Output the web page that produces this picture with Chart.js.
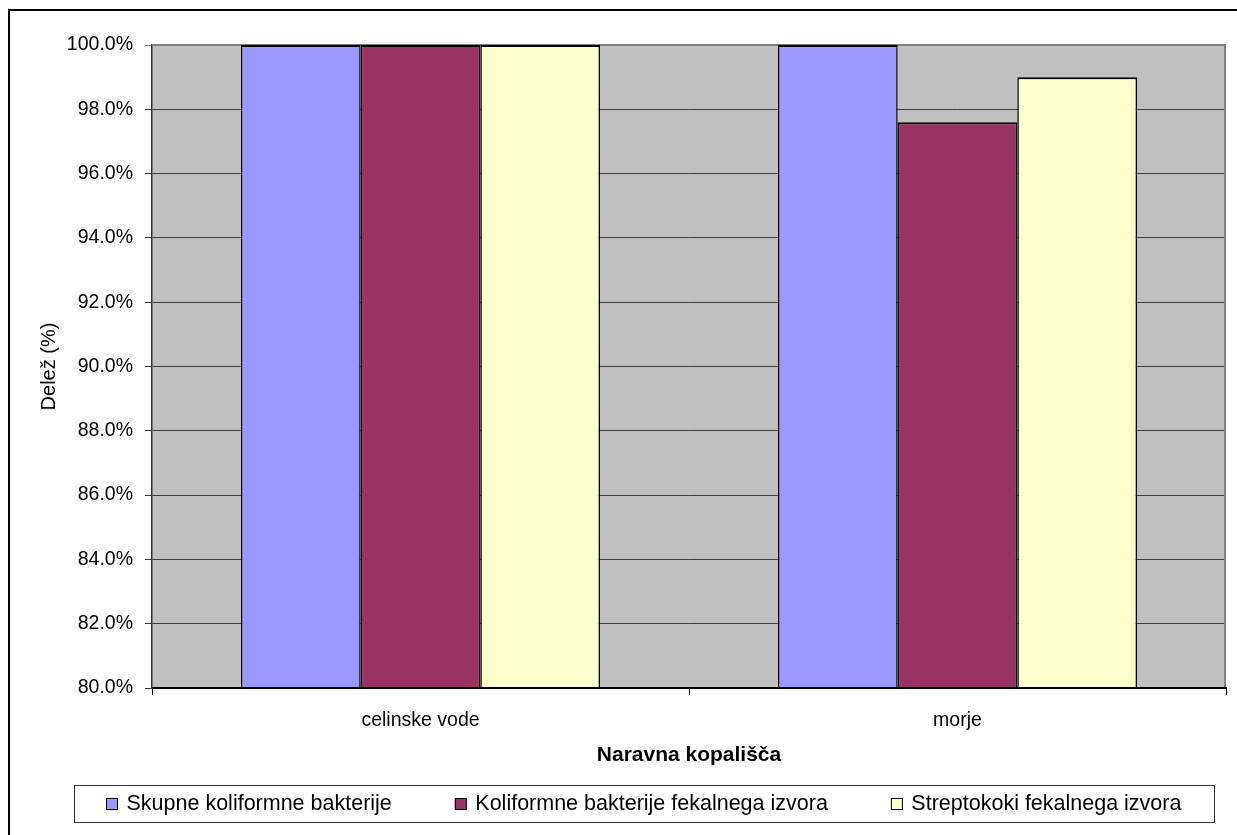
<!DOCTYPE html>
<html lang="sl">
<head>
<meta charset="utf-8">
<title>Naravna kopališča</title>
<script src="https://cdn.jsdelivr.net/npm/chart.js@4.4.0/dist/chart.umd.min.js"></script>
<style>
  html, body { margin: 0; padding: 0; background: #ffffff; }
  canvas { display: block; }
</style>
</head>
<body>
<canvas id="chart" width="1237" height="835"></canvas>
<script>
// Categories and series values (share of compliant samples, %)
const categories = ['celinske vode', 'morje'];
const seriesNames = [
  'Skupne koliformne bakterije',
  'Koliformne bakterije fekalnega izvora',
  'Streptokoki fekalnega izvora'
];
const skupneKoliformne = [100.0, 100.0];
const koliformneFekalne = [100.0, 97.6];
const streptokokiFekalni = [100.0, 99.0];
const seriesColors = ['#9999FF', '#993366', '#FFFFCC'];
const yMin = 80, yMax = 100, yStep = 2;

const FONT = '"Liberation Sans", Arial, Helvetica, sans-serif';

// Grey plot background, frame lines and the outer chart border
const framePlugin = {
  id: 'frame',
  beforeDraw(chart) {
    const { ctx, chartArea: a } = chart;
    ctx.save();
    ctx.fillStyle = '#ffffff';
    ctx.fillRect(0, 0, chart.width, chart.height);
    ctx.fillStyle = '#C0C0C0';
    ctx.fillRect(a.left, a.top, a.right - a.left, a.bottom - a.top);
    ctx.restore();
  },
  beforeDatasetsDraw(chart) {
    const { ctx, chartArea: a } = chart;
    ctx.save();
    ctx.strokeStyle = '#808080';
    ctx.lineWidth = 2;
    ctx.beginPath();
    ctx.moveTo(a.left, a.top);
    ctx.lineTo(a.right - 1, a.top);
    ctx.lineTo(a.right - 1, a.bottom);
    ctx.stroke();
    ctx.restore();
  },
  afterDatasetsDraw(chart) {
    // category axis line stays on top of the bar bases
    const { ctx, chartArea: a } = chart;
    ctx.save();
    ctx.fillStyle = '#000000';
    ctx.fillRect(a.left, Math.round(a.bottom) - 1, a.right - a.left, 2);
    ctx.restore();
  },
  afterDraw(chart) {
    const { ctx } = chart;
    ctx.save();
    ctx.fillStyle = '#000000';
    ctx.fillRect(8, 9, 2, chart.height);
    ctx.fillRect(8, 9, chart.width, 2);
    ctx.restore();
  }
};

// Boxed legend below the axis title
const boxLegendPlugin = {
  id: 'boxLegend',
  afterDraw(chart) {
    const { ctx } = chart;
    ctx.save();
    ctx.strokeStyle = '#333333';
    ctx.lineWidth = 1;
    ctx.strokeRect(74.5, 785.5, 1140, 37);
    ctx.font = '21.5px ' + FONT;
    ctx.textBaseline = 'middle';
    ctx.textAlign = 'left';
    let x = 106;
    chart.data.datasets.forEach((ds) => {
      ctx.fillStyle = ds.backgroundColor;
      ctx.fillRect(x, 798, 12, 12);
      ctx.strokeStyle = '#000000';
      ctx.strokeRect(x + 0.5, 798.5, 11, 11);
      ctx.fillStyle = '#000000';
      const tx = x + 20.5;
      ctx.fillText(ds.label, tx, 804);
      x = tx + ctx.measureText(ds.label).width + 63;
    });
    ctx.restore();
  }
};

const seriesValues = [skupneKoliformne, koliformneFekalne, streptokokiFekalni];

new Chart(document.getElementById('chart'), {
  type: 'bar',
  data: {
    labels: categories,
    datasets: seriesNames.map((name, i) => ({
      label: name,
      data: seriesValues[i],
      backgroundColor: seriesColors[i],
      borderColor: '#000000',
      borderWidth: { top: 2, left: 1.5, right: 1.5, bottom: 0 },
      borderSkipped: false,
      categoryPercentage: 0.6685,
      barPercentage: 1.0
    }))
  },
  options: {
    responsive: false,
    animation: false,
    devicePixelRatio: 1,
    layout: { padding: { left: 0, top: 45, right: 11, bottom: 0 } },
    plugins: {
      legend: { display: false },
      tooltip: { enabled: false }
    },
    scales: {
      x: {
        afterFit(scale) { scale.height = 147; },
        grid: {
          offset: true,
          drawOnChartArea: false,
          drawTicks: true,
          tickLength: 7,
          color: '#000000'
        },
        border: { display: true, color: '#000000', width: 2 },
        ticks: {
          color: '#000000',
          font: { family: FONT, size: 19.5 },
          padding: 14,
          maxRotation: 0
        },
        title: {
          display: true,
          text: 'Naravna kopališča',
          color: '#000000',
          font: { family: FONT, size: 21, weight: 'bold' },
          padding: { top: 0, bottom: 67 }
        }
      },
      y: {
        min: yMin,
        max: yMax,
        afterFit(scale) { scale.width = 152; },
        grid: {
          color: (c) => (c.tick && c.tick.value === yMax ? '#808080' : '#3c3c3c'),
          lineWidth: 1,
          tickLength: 7,
          drawTicks: true
        },
        border: { display: true, color: '#333333', width: 1.5 },
        ticks: {
          stepSize: yStep,
          color: '#000000',
          font: { family: FONT, size: 19.5 },
          padding: 12,
          callback: (v) => Number(v).toFixed(1) + '%'
        },
        title: {
          display: true,
          text: 'Delež (%)',
          color: '#000000',
          font: { family: FONT, size: 20 },
          padding: { top: 37, bottom: 0 }
        }
      }
    }
  },
  plugins: [framePlugin, boxLegendPlugin]
});
</script>
</body>
</html>
